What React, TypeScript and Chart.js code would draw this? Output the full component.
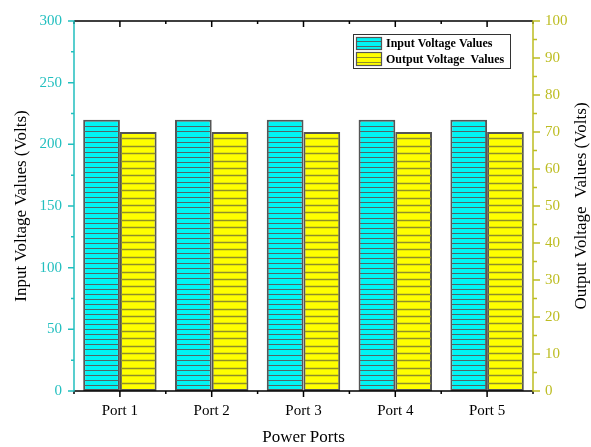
import React, { useEffect, useRef } from 'react';
import { Chart, registerables } from 'chart.js';

Chart.register(...registerables);

const categories = ['Port 1', 'Port 2', 'Port 3', 'Port 4', 'Port 5'];
const inputValues = [220, 220, 220, 220, 220];
const outputValues = [70, 70, 70, 70, 70];
const leftAxis = { min: 0, max: 300, step: 50, minor: 25 };
const rightAxis = { min: 0, max: 100, step: 10, minor: 5 };
const seriesNames = ['Input Voltage Values', 'Output Voltage  Values'];
const axisTitles = {
  x: 'Power Ports',
  left: 'Input Voltage Values (Volts)',
  right: 'Output Voltage  Values (Volts)',
};

const SERIF = "'Liberation Serif', 'Times New Roman', serif";
const CYAN = '#00f4f4';
const YELLOW = '#ffff00';
const CYAN_AXIS = '#22bfbf';
const OLIVE_AXIS = '#bdbd22';
const HATCH_CYAN = '#4f6767';
const HATCH_YELLOW = '#8f8f28';
const BAR_BORDER = '#555555';

function hatchRect(ctx: CanvasRenderingContext2D, x1: number, y1: number, x2: number, y2: number, spacing: number, color: string, lw: number) {
  ctx.save();
  ctx.beginPath();
  ctx.rect(x1, y1, x2 - x1, y2 - y1);
  ctx.clip();
  ctx.strokeStyle = color;
  ctx.lineWidth = lw;
  ctx.beginPath();
  for (let y = y2 - spacing; y > y1 + 1; y -= spacing) {
    const yy = Math.round(y) + 0.5;
    ctx.moveTo(x1, yy);
    ctx.lineTo(x2, yy);
  }
  ctx.stroke();
  ctx.restore();
}

const decorPlugin = {
  id: 'decor',
  afterDatasetsDraw(chart: any) {
    const ctx: CanvasRenderingContext2D = chart.ctx;
    const spacings = [5.07, 7.4];
    const colors = [HATCH_CYAN, HATCH_YELLOW];
    const widths = [1.2, 1.5];
    chart.data.datasets.forEach((_: any, di: number) => {
      const meta = chart.getDatasetMeta(di);
      meta.data.forEach((bar: any) => {
        const { x, y, base, width } = bar.getProps(['x', 'y', 'base', 'width'], true);
        const l = x - width / 2 + 1;
        const r = x + width / 2 - 1;
        hatchRect(ctx, l, y + 1, r, base - 1, spacings[di], colors[di], widths[di]);
      });
    });
  },
  afterDraw(chart: any) {
    const ctx: CanvasRenderingContext2D = chart.ctx;
    const { left, right, top, bottom } = chart.chartArea;
    const xs = chart.scales.x;
    const ys = chart.scales.y;
    const y1s = chart.scales.y1;
    ctx.save();
    ctx.lineWidth = 1.5;

    // top and bottom axes
    ctx.strokeStyle = '#000';
    ctx.beginPath();
    ctx.moveTo(left, top); ctx.lineTo(right, top);
    ctx.moveTo(left, bottom); ctx.lineTo(right, bottom);
    const n = categories.length;
    const catW = (right - left) / n;
    for (let i = 0; i < n; i++) {
      const cx = xs.getPixelForValue(i);
      ctx.moveTo(cx, bottom); ctx.lineTo(cx, bottom + 6);
      ctx.moveTo(cx, top); ctx.lineTo(cx, top + 6);
    }
    for (let i = 0; i <= n; i++) {
      const bx = left + i * catW;
      ctx.moveTo(bx, bottom); ctx.lineTo(bx, bottom + 3);
      ctx.moveTo(bx, top); ctx.lineTo(bx, top + 3);
    }
    ctx.stroke();

    // left axis
    ctx.strokeStyle = CYAN_AXIS;
    ctx.beginPath();
    ctx.moveTo(left, top - 0.75); ctx.lineTo(left, bottom + 0.75);
    for (let v = leftAxis.min; v <= leftAxis.max; v += leftAxis.minor) {
      const py = ys.getPixelForValue(v);
      const len = v % leftAxis.step === 0 ? 6 : 3;
      ctx.moveTo(left, py); ctx.lineTo(left - len, py);
    }
    ctx.stroke();

    // right axis
    ctx.strokeStyle = OLIVE_AXIS;
    ctx.beginPath();
    ctx.moveTo(right, top - 0.75); ctx.lineTo(right, bottom + 0.75);
    for (let v = rightAxis.min; v <= rightAxis.max; v += rightAxis.minor) {
      const py = y1s.getPixelForValue(v);
      const len = v % rightAxis.step === 0 ? 7 : 4;
      ctx.moveTo(right, py); ctx.lineTo(right + len, py);
    }
    ctx.stroke();

    // axis titles
    ctx.fillStyle = '#000';
    ctx.font = `17px ${SERIF}`;
    ctx.textAlign = 'center';
    ctx.textBaseline = 'middle';
    ctx.fillText(axisTitles.x, (left + right) / 2, 438);
    const cy = (top + bottom) / 2;
    ctx.save();
    ctx.translate(22, cy);
    ctx.rotate(-Math.PI / 2);
    ctx.fillText(axisTitles.left, 0, 0);
    ctx.restore();
    ctx.save();
    ctx.translate(582, cy);
    ctx.rotate(-Math.PI / 2);
    ctx.fillText(axisTitles.right, 0, 0);
    ctx.restore();

    // legend
    const lx = 353, ly = 34, lw = 157, lh = 34;
    ctx.fillStyle = '#fff';
    ctx.fillRect(lx, ly, lw, lh);
    ctx.lineWidth = 1;
    ctx.strokeStyle = '#333';
    ctx.strokeRect(lx + 0.5, ly + 0.5, lw, lh);
    const patches = [
      { y: 37, h: 13, fill: CYAN, hatch: HATCH_CYAN, sp: 4.5 },
      { y: 52, h: 14, fill: YELLOW, hatch: HATCH_YELLOW, sp: 4.5 },
    ];
    patches.forEach((p, i) => {
      ctx.fillStyle = p.fill;
      ctx.fillRect(356, p.y, 26, p.h);
      hatchRect(ctx, 356, p.y, 382, p.y + p.h, p.sp, p.hatch, 1);
      ctx.strokeStyle = BAR_BORDER;
      ctx.lineWidth = 1.2;
      ctx.strokeRect(356.5, p.y + 0.5, 25, p.h - 1);
      ctx.fillStyle = '#000';
      ctx.font = `bold 12px ${SERIF}`;
      ctx.textAlign = 'left';
      ctx.textBaseline = 'middle';
      ctx.fillText(seriesNames[i], 386, p.y + p.h / 2 + 0.5);
    });
    ctx.restore();
  },
};

export default function App() {
  const ref = useRef<HTMLCanvasElement>(null);
  useEffect(() => {
    document.body.style.margin = '0';
    const canvas = ref.current;
    if (!canvas) return;
    const chart = new Chart(canvas, {
      type: 'bar',
      data: {
        labels: categories,
        datasets: [
          {
            label: seriesNames[0],
            data: inputValues,
            yAxisID: 'y',
            backgroundColor: CYAN,
            borderColor: BAR_BORDER,
            borderWidth: 2,
            borderSkipped: false,
            categoryPercentage: 0.8,
            barPercentage: 1,
          },
          {
            label: seriesNames[1],
            data: outputValues,
            yAxisID: 'y1',
            backgroundColor: YELLOW,
            borderColor: BAR_BORDER,
            borderWidth: 2,
            borderSkipped: false,
            categoryPercentage: 0.8,
            barPercentage: 1,
          },
        ],
      },
      options: {
        responsive: false,
        animation: false,
        devicePixelRatio: 1,
        layout: { padding: { top: 18, left: 0, right: 0, bottom: 0 } },
        plugins: { legend: { display: false }, tooltip: { enabled: false } },
        scales: {
          x: {
            grid: { display: false, drawTicks: false },
            border: { display: false },
            ticks: { color: '#000', font: { family: SERIF, size: 15 }, padding: 11 },
            afterFit: (s: any) => { s.height = 56; },
          },
          y: {
            position: 'left',
            min: leftAxis.min,
            max: leftAxis.max,
            grid: { display: false, drawTicks: false },
            border: { display: false },
            ticks: { stepSize: leftAxis.step, color: CYAN_AXIS, font: { family: SERIF, size: 15 }, padding: 12 },
            afterFit: (s: any) => { s.width = 74; },
          },
          y1: {
            position: 'right',
            min: rightAxis.min,
            max: rightAxis.max,
            grid: { display: false, drawTicks: false },
            border: { display: false },
            ticks: { stepSize: rightAxis.step, color: OLIVE_AXIS, font: { family: SERIF, size: 15 }, padding: 12 },
            afterFit: (s: any) => { s.width = 58; },
          },
        },
      },
      plugins: [decorPlugin],
    });
    return () => chart.destroy();
  }, []);
  return (
    <div style={{ width: 591, height: 447 }}>
      <canvas ref={ref} width={591} height={447} />
    </div>
  );
}
